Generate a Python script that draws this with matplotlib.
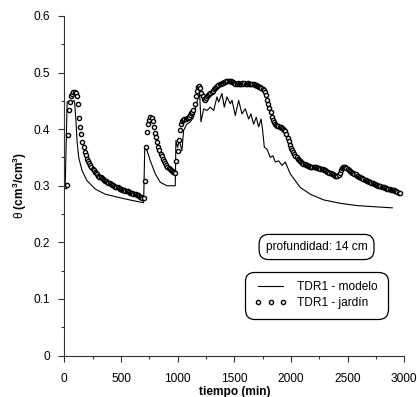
import matplotlib
matplotlib.use('Agg')
import matplotlib.pyplot as plt
from matplotlib.lines import Line2D
from matplotlib.ticker import MultipleLocator, FuncFormatter
import numpy as np

plt.rcParams['font.family'] = ['Liberation Sans', 'DejaVu Sans']
plt.rcParams['mathtext.fontset'] = 'custom'
plt.rcParams['mathtext.rm'] = 'Liberation Sans'
plt.rcParams['mathtext.bf'] = 'Liberation Sans:bold'

# TDR1 - jardín: measured every 10 min
jardin_t = np.arange(0, 2970, 10)
jardin_theta = [
    0.300, 0.300, 0.302, 0.390, 0.433, 0.448, 0.458, 0.463, 0.465, 0.465,
    0.464, 0.458, 0.444, 0.420, 0.404, 0.392, 0.377, 0.368, 0.360, 0.354,
    0.348, 0.344, 0.340, 0.336, 0.333, 0.330, 0.327, 0.325, 0.323, 0.320,
    0.318, 0.316, 0.315, 0.313, 0.312, 0.310, 0.309, 0.308, 0.306, 0.305,
    0.304, 0.303, 0.302, 0.301, 0.299, 0.298, 0.297, 0.297, 0.296, 0.295,
    0.294, 0.293, 0.292, 0.292, 0.291, 0.290, 0.290, 0.289, 0.288, 0.287,
    0.287, 0.286, 0.285, 0.285, 0.284, 0.283, 0.282, 0.281, 0.280, 0.279,
    0.278, 0.309, 0.368, 0.395, 0.409, 0.417, 0.421, 0.419, 0.414, 0.404,
    0.394, 0.386, 0.377, 0.369, 0.363, 0.357, 0.352, 0.347, 0.343, 0.340,
    0.337, 0.334, 0.332, 0.330, 0.328, 0.326, 0.325, 0.324, 0.322, 0.344,
    0.362, 0.381, 0.398, 0.410, 0.414, 0.416, 0.418, 0.418, 0.419, 0.420,
    0.422, 0.425, 0.428, 0.430, 0.433, 0.445, 0.458, 0.468, 0.474, 0.477,
    0.472, 0.464, 0.458, 0.453, 0.452, 0.455, 0.458, 0.460, 0.462, 0.464,
    0.466, 0.468, 0.471, 0.473, 0.475, 0.477, 0.478, 0.479, 0.480, 0.481,
    0.482, 0.483, 0.484, 0.485, 0.486, 0.486, 0.486, 0.485, 0.484, 0.483,
    0.481, 0.480, 0.480, 0.481, 0.480, 0.479, 0.480, 0.481, 0.480, 0.481,
    0.480, 0.480, 0.481, 0.480, 0.479, 0.479, 0.480, 0.479, 0.478, 0.478,
    0.477, 0.476, 0.475, 0.474, 0.473, 0.471, 0.470, 0.466, 0.460, 0.452,
    0.445, 0.438, 0.430, 0.422, 0.416, 0.412, 0.409, 0.407, 0.406, 0.405,
    0.404, 0.403, 0.402, 0.400, 0.399, 0.397, 0.391, 0.385, 0.379, 0.372,
    0.367, 0.363, 0.359, 0.356, 0.353, 0.350, 0.348, 0.346, 0.344, 0.342,
    0.340, 0.339, 0.338, 0.337, 0.336, 0.335, 0.335, 0.334, 0.334, 0.334,
    0.333, 0.333, 0.333, 0.332, 0.332, 0.331, 0.330, 0.329, 0.329, 0.328,
    0.327, 0.326, 0.325, 0.324, 0.323, 0.322, 0.321, 0.320, 0.319, 0.318,
    0.318, 0.317, 0.319, 0.323, 0.328, 0.332, 0.334, 0.334, 0.333, 0.332,
    0.330, 0.328, 0.326, 0.325, 0.323, 0.322, 0.321, 0.320, 0.318, 0.317,
    0.316, 0.315, 0.314, 0.313, 0.312, 0.311, 0.310, 0.309, 0.308, 0.307,
    0.306, 0.305, 0.304, 0.303, 0.303, 0.302, 0.301, 0.300, 0.300, 0.299,
    0.298, 0.298, 0.297, 0.296, 0.296, 0.295, 0.295, 0.294, 0.293, 0.293,
    0.292, 0.292, 0.291, 0.290, 0.289, 0.288, 0.287,
]

# TDR1 - modelo
modelo_t = [0, 8, 25, 90, 103, 112, 127, 156, 200, 274, 362, 509, 600, 700,
            710, 730, 759, 803, 847, 906, 979, 985, 1000, 1015, 1038, 1053,
            1082, 1112, 1141, 1155, 1170, 1194, 1206, 1230, 1259, 1288, 1318,
            1347, 1362, 1391, 1412, 1435, 1465, 1480, 1509, 1538, 1568, 1597,
            1627, 1647, 1670, 1694, 1715, 1736, 1750, 1765, 1788, 1818, 1841,
            1862, 1891, 1921, 1950, 1994, 2038, 2082, 2171, 2288, 2435, 2582,
            2729, 2894]
modelo_theta = [0.300, 0.300, 0.448, 0.450, 0.415, 0.380, 0.350, 0.327, 0.309,
                0.294, 0.285, 0.278, 0.274, 0.270, 0.368, 0.362, 0.344, 0.321,
                0.306, 0.300, 0.300, 0.380, 0.368, 0.380, 0.362, 0.398, 0.409,
                0.413, 0.421, 0.436, 0.448, 0.463, 0.413, 0.436, 0.433, 0.439,
                0.433, 0.457, 0.448, 0.463, 0.439, 0.457, 0.445, 0.451, 0.424,
                0.451, 0.427, 0.436, 0.418, 0.427, 0.409, 0.421, 0.404, 0.418,
                0.398, 0.368, 0.365, 0.350, 0.353, 0.342, 0.344, 0.336, 0.342,
                0.321, 0.309, 0.297, 0.285, 0.275, 0.269, 0.265, 0.263, 0.261]

x_ticks = [0, 500, 1000, 1500, 2000, 2500, 3000]
y_ticks = [0, 0.1, 0.2, 0.3, 0.4, 0.5, 0.6]

fig = plt.figure(figsize=(4.17, 3.97), dpi=100)
ax = fig.add_axes([0.1542, 0.1045, 0.8153, 0.8552])

ax.plot(modelo_t, modelo_theta, color='black', lw=0.8)
ax.plot(jardin_t, jardin_theta, 'o', ms=3.0, mfc='white', mec='black', mew=1.0)

ax.set_xlim(0, 3000)
ax.set_ylim(0, 0.6)
ax.set_xticks(x_ticks)
ax.set_yticks(y_ticks)
ax.xaxis.set_minor_locator(MultipleLocator(250))
ax.yaxis.set_minor_locator(MultipleLocator(0.05))
ax.yaxis.set_major_formatter(FuncFormatter(lambda v, p: '0' if v == 0 else f'{v:.1f}'))

for s in ['top', 'right']:
    ax.spines[s].set_visible(False)
for s in ['left', 'bottom']:
    ax.spines[s].set_color('#333333')
    ax.spines[s].set_linewidth(0.8)

ax.tick_params(which='major', length=4.5, width=0.8, color='#333333', labelsize=8.6)
ax.tick_params(which='minor', length=2, width=0.8, color='#333333')
ax.tick_params(axis='x', which='major', pad=8)
ax.tick_params(axis='y', which='major', pad=6)

ax.set_xlabel('tiempo (min)', fontsize=8.6, fontweight='bold', labelpad=1)
ax.set_ylabel(r'$\mathrm{\theta}$ $\mathbf{(cm^3/cm^3)}$', fontsize=8.6, labelpad=3)

ax.text(0.742, 0.3196, 'profundidad: 14 cm', transform=ax.transAxes,
        ha='center', va='center', fontsize=8.6,
        bbox=dict(boxstyle='round,pad=0.55,rounding_size=0.8', fc='white',
                  ec='black', lw=0.9))

handles = [Line2D([], [], color='black', lw=0.8),
           Line2D([], [], ls='none', marker='o', ms=3.0, mfc='white',
                  mec='black', mew=1.0)]
leg = ax.legend(handles, ['TDR1 - modelo', 'TDR1 - jardín'],
                loc='upper left', bbox_to_anchor=(0.531, 0.2468),
                borderaxespad=0, fontsize=8.6, numpoints=3,
                handlelength=2.7, handletextpad=0.9, borderpad=0.8,
                labelspacing=0.35, fancybox=True, framealpha=1)
leg.get_frame().set_edgecolor('black')
leg.get_frame().set_linewidth(0.9)
leg.get_frame().set_boxstyle('round,pad=0,rounding_size=0.8')

fig.savefig('out.png', dpi=100)
